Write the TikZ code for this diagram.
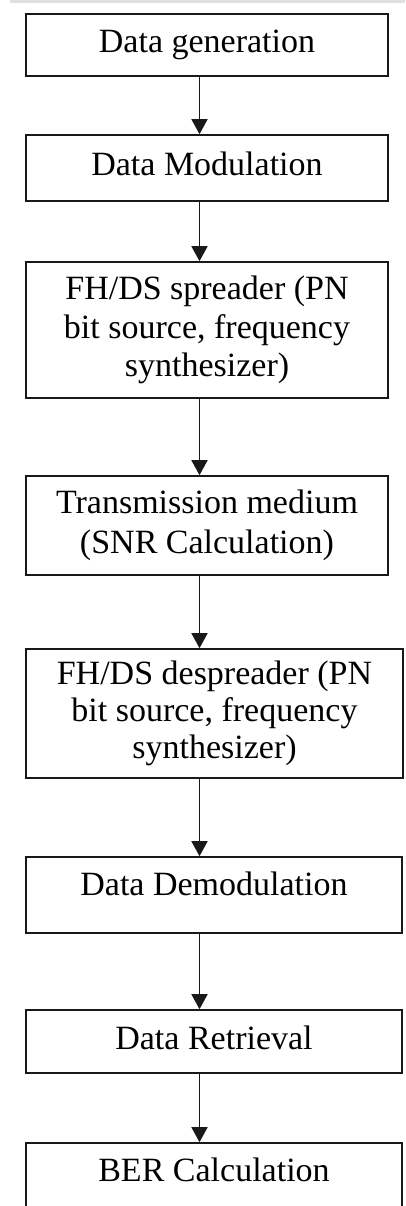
\documentclass[tikz,border=0pt]{standalone}
\usepackage{fontspec}
\setmainfont{Liberation Serif}
\usetikzlibrary{arrows.meta}
\begin{document}
\begin{tikzpicture}[x=1pt,y=-1pt,
  box/.style={draw=black!90, line width=1.6pt, inner sep=0pt, align=center,
    font=\fontsize{34}{38.5}\selectfont, text=black},
  one/.style={text height=24pt, text depth=8pt},
  low/.style={text height=24pt, text depth=24pt},
  arr/.style={draw=black!90, line width=1.6pt, -{Triangle[width=16pt,length=15pt]}}]
\useasboundingbox (0,0) rectangle (405,1206);
\clip (0,0) rectangle (405,1206);
\fill[black!12] (10,0) rectangle (405,3);
\coordinate (ax) at (199.5,0);
\node[box, one, minimum width=362pt, minimum height=62pt] (b1) at (207,45) {Data generation};
\node[box, one, minimum width=362pt, minimum height=66pt] (b2) at (207,168) {Data Modulation};
\node[box, minimum width=362pt, minimum height=136pt] (b3) at (207,330) {FH/DS spreader (PN\\bit source, frequency\\synthesizer)};
\node[box, minimum width=362pt, minimum height=99pt, font=\fontsize{34}{39.5}\selectfont] (b4) at (207,525.5) {Transmission medium\\(SNR Calculation)};
\node[box, minimum width=377pt, minimum height=129pt, font=\fontsize{34}{37}\selectfont] (b5) at (214.5,713.5) {FH/DS despreader (PN\\bit source, frequency\\synthesizer)};
\node[box, low, minimum width=376pt, minimum height=76pt] (b6) at (214,895) {Data Demodulation};
\node[box, one, minimum width=376pt, minimum height=63pt] (b7) at (214,1041.5) {Data Retrieval};
\node[box, low, minimum width=376pt, minimum height=76pt] (b8) at (214,1181) {BER Calculation};
\draw[arr] (b1.south -| ax) -- (b2.north -| ax);
\draw[arr] (b2.south -| ax) -- (b3.north -| ax);
\draw[arr] (b3.south -| ax) -- (b4.north -| ax);
\draw[arr] (b4.south -| ax) -- (b5.north -| ax);
\draw[arr] (b5.south -| ax) -- (b6.north -| ax);
\draw[arr] (b6.south -| ax) -- (b7.north -| ax);
\draw[arr] (b7.south -| ax) -- (b8.north -| ax);
\end{tikzpicture}
\end{document}
